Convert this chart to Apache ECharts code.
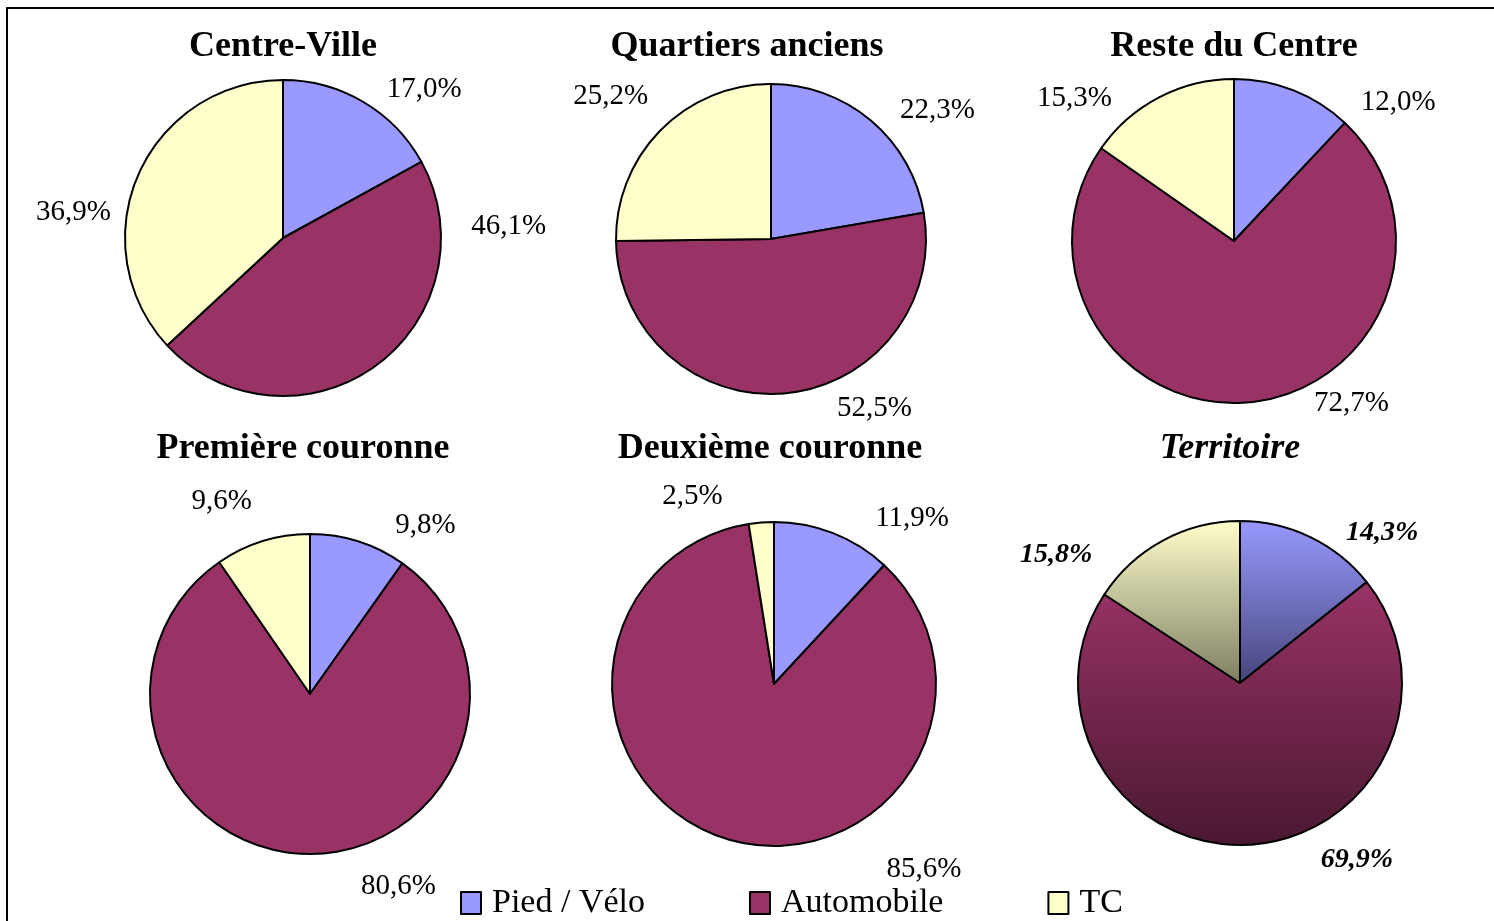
<!DOCTYPE html>
<html>
<head>
<meta charset="utf-8">
<script src="https://cdn.jsdelivr.net/npm/echarts@6/dist/echarts.min.js"></script>
<style>
  html, body { margin: 0; padding: 0; background: #fff; }
  #main { width: 1494px; height: 921px; }
</style>
</head>
<body>
<div id="main"></div>
<script>
var modes = ['Pied / Vélo', 'Automobile', 'TC'];
var zones = ['Centre-Ville', 'Quartiers anciens', 'Reste du Centre', 'Première couronne', 'Deuxième couronne', 'Territoire'];
var piedVelo = [17.0, 22.3, 12.0, 9.8, 11.9, 14.3];
var automobile = [46.1, 52.5, 72.7, 80.6, 85.6, 69.9];
var transports = [36.9, 25.2, 15.3, 9.6, 2.5, 15.8];

var serif = "'Liberation Serif', 'Times New Roman', serif";
var colors = ['#9999FF', '#993366', '#FFFFCC'];
var darkColors = ['#45457a', '#4a1830', '#7d7d62'];

// layout of each small pie: center x, center y, radius, title x
var pies = [
    [283, 238, 158, 283],
    [771, 239, 155, 747],
    [1234, 241, 162, 1234],
    [310, 694, 160, 303],
    [774, 684, 162, 770],
    [1240, 683, 162, 1230]
];
// label nudges (Excel's "best fit" placement), per pie and slice
var nudges = [
    [[7, 6], [78, -158], [-2, 46]],
    [[10, 7], [45, -7], [8, -18]],
    [[54, 32], [56, -21], [-32, 21]],
    [[25, 5], [132, 10], [1, -19]],
    [[29, 6], [246, 9], [-32, -4]],
    [[21, 16], [67, -7], [-55, 34]]
];

function fmt(p) {
    return p.value.toFixed(1).replace('.', ',') + '%';
}

var titles = [];
var series = [];
for (var i = 0; i < zones.length; i++) {
    var last = (i === zones.length - 1);
    titles.push({
        text: zones[i],
        left: pies[i][3],
        top: i < 3 ? 29 : 431,
        textAlign: 'center',
        padding: 0,
        textStyle: {
            fontFamily: serif,
            fontSize: 36,
            fontWeight: 'bold',
            fontStyle: last ? 'italic' : 'normal',
            color: '#000'
        }
    });
    var vals = [piedVelo[i], automobile[i], transports[i]];
    var data = [];
    for (var k = 0; k < modes.length; k++) {
        var c = colors[k];
        if (last) {
            c = new echarts.graphic.LinearGradient(0, 0, 0, 1, [
                {offset: 0, color: colors[k]},
                {offset: 1, color: darkColors[k]}
            ]);
        }
        data.push({name: modes[k], value: vals[k], itemStyle: {color: c}});
    }
    series.push({
        name: zones[i],
        type: 'pie',
        center: [pies[i][0], pies[i][1]],
        radius: pies[i][2],
        startAngle: 90,
        clockwise: true,
        avoidLabelOverlap: false,
        silent: true,
        itemStyle: {borderColor: '#000', borderWidth: 2},
        label: {
            show: true,
            position: 'outside',
            formatter: fmt,
            fontFamily: serif,
            fontSize: last ? 28 : 29,
            fontWeight: last ? 'bold' : 'normal',
            fontStyle: last ? 'italic' : 'normal',
            color: '#000'
        },
        labelLine: {show: false, length: 22, length2: 0},
        labelLayout: (function (n) {
            return function (params) {
                return {dx: n[params.dataIndex][0], dy: n[params.dataIndex][1]};
            };
        })(nudges[i]),
        data: data
    });
}

var chart = echarts.init(document.getElementById('main'));
chart.setOption({
    backgroundColor: '#fff',
    animation: false,
    title: titles,
    legend: {
        data: modes,
        left: 455,
        top: 881,
        icon: 'rect',
        itemWidth: 20,
        itemHeight: 22,
        itemGap: 104,
        itemStyle: {borderColor: '#000', borderWidth: 2},
        textStyle: {
            fontFamily: serif,
            fontSize: 34,
            color: '#000',
            padding: [4, 0, 0, 6]
        }
    },
    graphic: [{
        type: 'rect',
        shape: {x: 7, y: 8, width: 1600, height: 1000},
        style: {fill: 'none', stroke: '#000', lineWidth: 2},
        silent: true
    }],
    series: series
});
</script>
</body>
</html>
